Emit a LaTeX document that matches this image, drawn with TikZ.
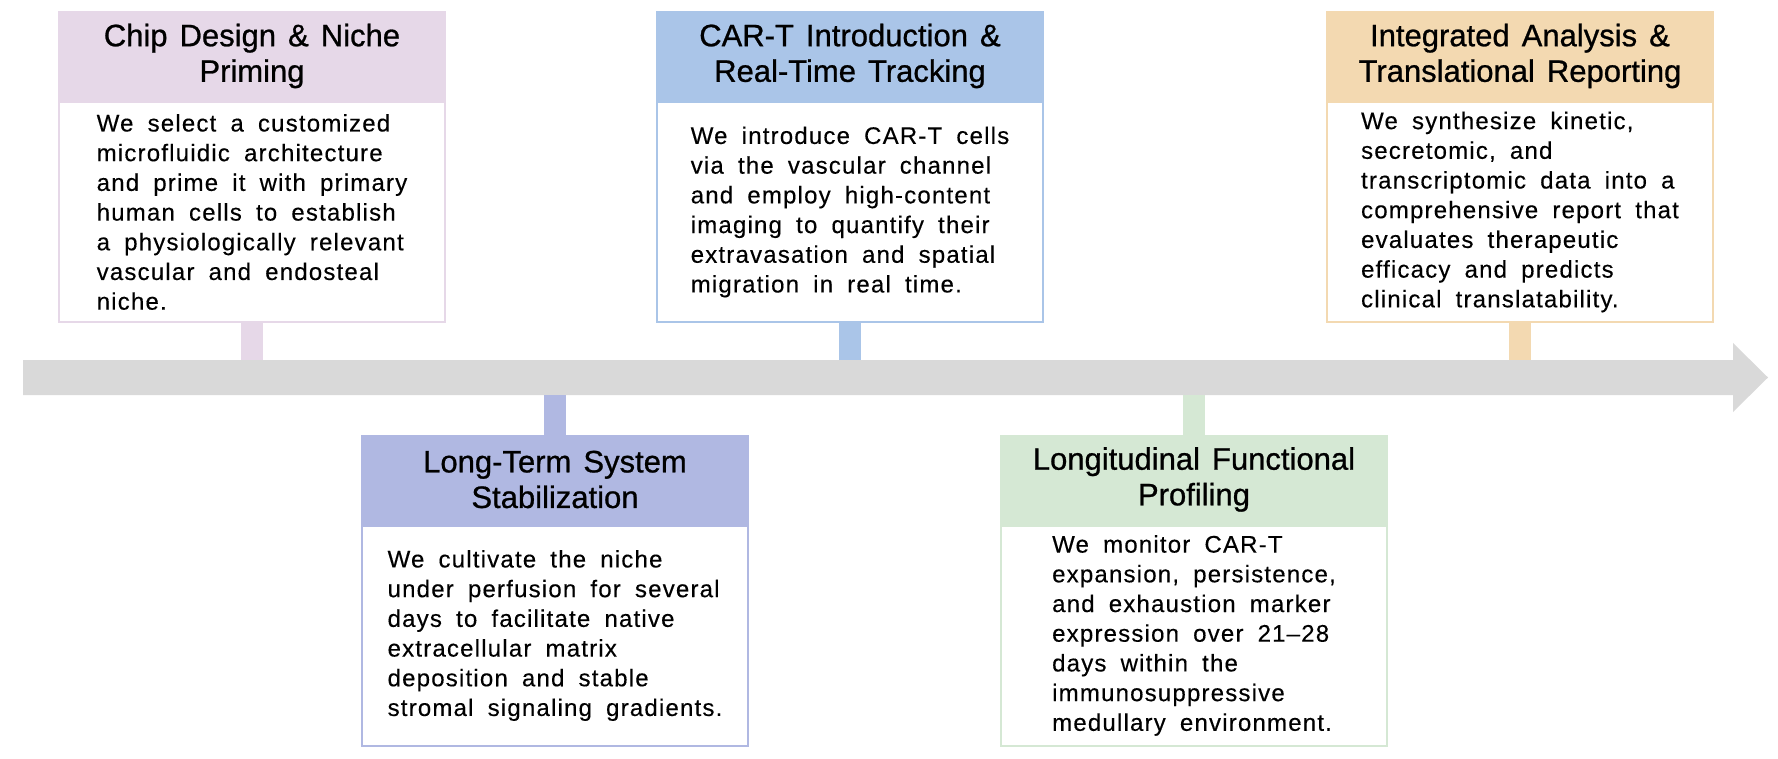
\documentclass[tikz,border=0pt]{standalone}
\usepackage{fontspec}
\setmainfont{Liberation Sans}
\newfontfamily\headfont[WordSpace=1.4,FakeBold=0.8]{Liberation Sans}
\newfontfamily\bodyfont[LetterSpace=5,WordSpace=1.8,FakeBold=0.3]{Liberation Sans}
\usetikzlibrary{positioning}

\definecolor{chippink}{RGB}{230,216,232}
\definecolor{stablue}{RGB}{176,184,226}
\definecolor{carblue}{RGB}{170,197,232}
\definecolor{longgreen}{RGB}{213,232,212}
\definecolor{reppeach}{RGB}{243,217,177}
\definecolor{bargray}{RGB}{217,217,217}

\tikzset{
  stagehead/.style={minimum width=193pt, minimum height=44pt, inner sep=0pt,
    line width=1pt, align=center, font=\headfont\fontsize{15.5}{17.8}\selectfont},
  stagebody/.style={minimum width=193pt, minimum height=110pt, inner sep=0pt,
    line width=1pt, fill=white, align=left,
    font=\bodyfont\fontsize{12}{14.85}\selectfont},
  stem/.style={line width=11pt}
}

\begin{document}
\begin{tikzpicture}[x=0.5pt, y=-0.5pt]
\useasboundingbox (0,0) rectangle (1778,759);
\coordinate (bartop) at (0,360);
\coordinate (barbot) at (0,395);
% time line
\fill[bargray] (23,360) -- (1733,360) -- (1733,343) -- (1768,377.5)
  -- (1733,412) -- (1733,395) -- (23,395) -- cycle;

\node[stagehead, fill=chippink, draw=chippink] (chiphead) at (252,56) {Chip Design \& Niche\\Priming};
\node[stagebody, draw=chippink, below=0pt of chiphead] (chipbody) {We select a customized\\microfluidic architecture\\and prime it with primary\\human cells to establish\\a physiologically relevant\\vascular and endosteal\\niche.};
\draw[stem, chippink] (chipbody.south) -- (chipbody.south |- bartop);

\node[stagehead, fill=stablue, draw=stablue] (stahead) at (555,479.5) {Long-Term System\\Stabilization};
\node[stagebody, draw=stablue, below=0pt of stahead] (stabody) {We cultivate the niche\\under perfusion for several\\days to facilitate native\\extracellular matrix\\deposition and stable\\stromal signaling gradients.};
\draw[stem, stablue] (stahead.north) -- (stahead.north |- barbot);

\node[stagehead, fill=carblue, draw=carblue] (carhead) at (850,56) {CAR-T Introduction \&\\Real-Time Tracking};
\node[stagebody, draw=carblue, below=0pt of carhead] (carbody) {We introduce CAR-T cells\\via the vascular channel\\and employ high-content\\imaging to quantify their\\extravasation and spatial\\migration in real time.};
\draw[stem, carblue] (carbody.south) -- (carbody.south |- bartop);

\node[stagehead, fill=longgreen, draw=longgreen] (longhead) at (1194,479.5) {Longitudinal Functional\\Profiling};
\node[stagebody, draw=longgreen, below=0pt of longhead] (longbody) {We monitor CAR-T\\expansion, persistence,\\and exhaustion marker\\expression over 21–28\\days within the\\immunosuppressive\\medullary environment.};
\draw[stem, longgreen] (longhead.north) -- (longhead.north |- barbot);

\node[stagehead, fill=reppeach, draw=reppeach] (rephead) at (1520,56) {Integrated Analysis \&\\Translational Reporting};
\node[stagebody, draw=reppeach, below=0pt of rephead] (repbody) {We synthesize kinetic,\\secretomic, and\\transcriptomic data into a\\comprehensive report that\\evaluates therapeutic\\efficacy and predicts\\clinical translatability.};
\draw[stem, reppeach] (repbody.south) -- (repbody.south |- bartop);
\end{tikzpicture}
\end{document}
